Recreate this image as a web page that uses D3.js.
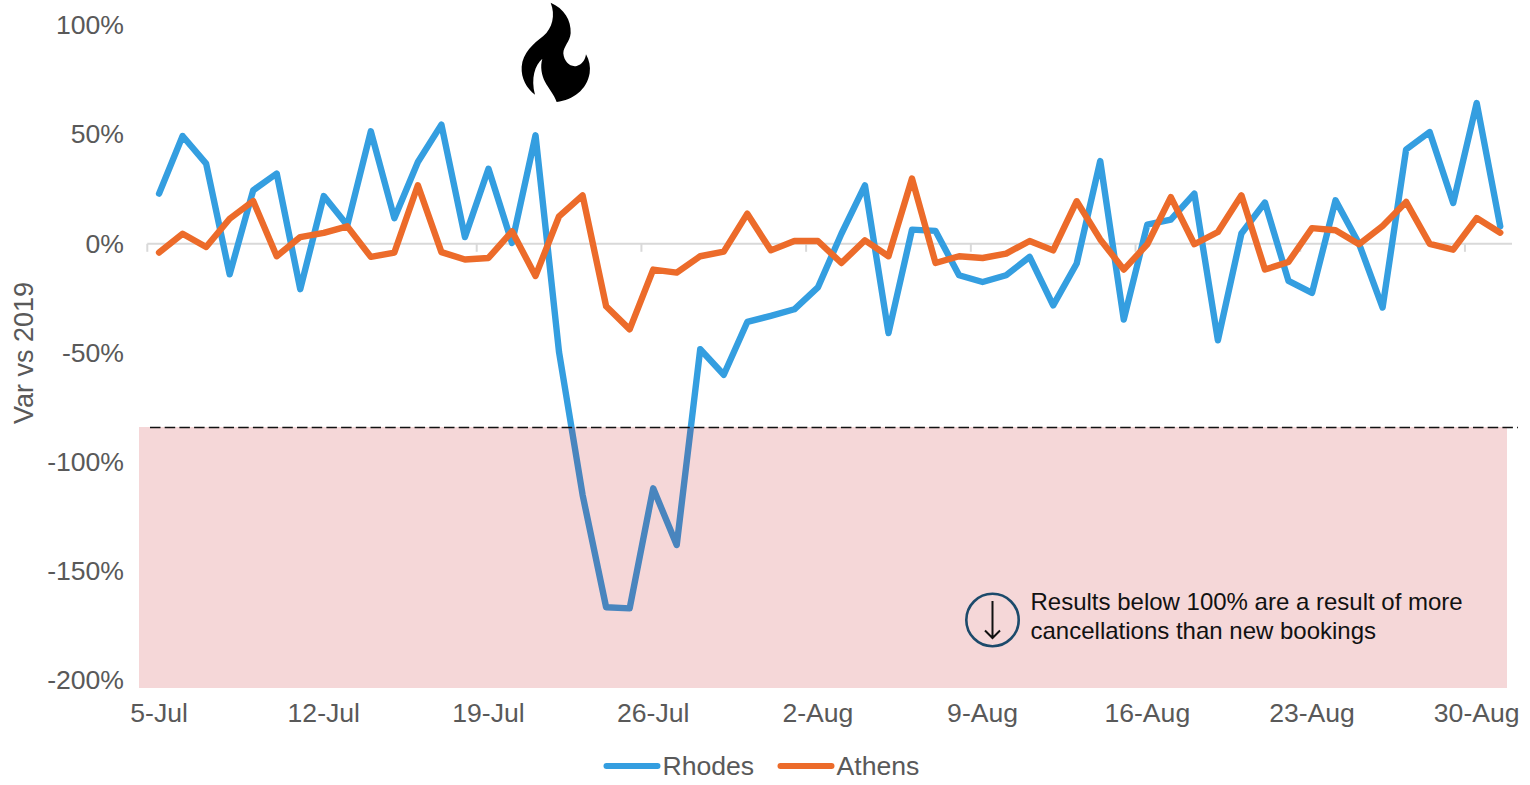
<!DOCTYPE html>
<html lang="en">
<head>
<meta charset="UTF-8">
<title>Var vs 2019</title>
<script src="https://cdn.jsdelivr.net/npm/d3@7"></script>
<style>
    html, body { margin: 0; padding: 0; background: #fff; }
    svg { display: block; }
    text { font-family: "Liberation Sans", Arial, sans-serif; }
</style>
</head>
<body>
<script>
    var dates = ["5-Jul","6-Jul","7-Jul","8-Jul","9-Jul","10-Jul","11-Jul","12-Jul","13-Jul","14-Jul",
        "15-Jul","16-Jul","17-Jul","18-Jul","19-Jul","20-Jul","21-Jul","22-Jul","23-Jul","24-Jul",
        "25-Jul","26-Jul","27-Jul","28-Jul","29-Jul","30-Jul","31-Jul","1-Aug","2-Aug","3-Aug",
        "4-Aug","5-Aug","6-Aug","7-Aug","8-Aug","9-Aug","10-Aug","11-Aug","12-Aug","13-Aug",
        "14-Aug","15-Aug","16-Aug","17-Aug","18-Aug","19-Aug","20-Aug","21-Aug","22-Aug","23-Aug",
        "24-Aug","25-Aug","26-Aug","27-Aug","28-Aug","29-Aug","30-Aug","31-Aug"];
    var rhodes = [23,49.4,36.7,-14,24.5,32.2,-20.8,21.9,8.5,51.5,
        11.7,37.5,54.6,3.1,34.4,0.4,49.7,-49.7,-115,-166.5,
        -167,-112,-138,-48.3,-60,-35.8,-33,-30,-20,4.6,
        26.8,-40.9,6.5,5.9,-14.4,-17.5,-14.4,-6,-28.2,-9,
        37.9,-34.7,8.8,11.1,23,-44.2,4.7,18.9,-17,-22.5,
        19.9,0,-29.2,43.2,51.2,18.7,64.5,8];
    var athens = [-4,4.6,-1.5,11.5,19.6,-5.7,3.1,5,8,-6,
        -4,26.8,-3.8,-7.2,-6.5,5.7,-14.7,12.6,22.2,-28.6,
        -39.2,-11.8,-13.2,-5.7,-3.6,13.8,-3,1.3,1.3,-8.8,
        1.6,-5.7,29.9,-8.8,-5.7,-6.5,-4.5,1.3,-3,19.5,
        2,-11.8,-0.2,21.4,-0.2,5.4,22.2,-11.8,-8.3,7.2,
        6.2,-0.2,8.2,19.2,0,-2.7,11.8,5.1];
    var yTicks = [100,50,0,-50,-100,-150,-200];
    var xLabels = ["5-Jul","12-Jul","19-Jul","26-Jul","2-Aug","9-Aug","16-Aug","23-Aug","30-Aug"];
    var seriesNames = ["Rhodes","Athens"];
    var seriesColors = ["#349ee0","#ec6b2a"];
    var noteLines = ["Results below 100% are a result of more","cancellations than new bookings"];

    var width = 1530, height = 785;
    var grey = "#595959";
    var labelSize = "26.6px";

    var svg = d3.select("body").append("svg")
        .attr("width", width)
        .attr("height", height);

    var x = d3.scaleBand().domain(dates).range([147.3, 1512]);
    var y = d3.scaleLinear().domain([-200, 100]).range([680.4, 25.5]);

    // x axis line sits on the zero value, labels stay at the bottom
    var zeroLine = svg.append("g");
    zeroLine.append("line")
        .attr("x1", x.range()[0]).attr("x2", x.range()[1])
        .attr("y1", y(0)).attr("y2", y(0))
        .attr("stroke", "#d9d9d9").attr("stroke-width", 2);
    zeroLine.selectAll(".tick")
        .data(xLabels)
        .enter()
        .append("line")
        .attr("class", "tick")
        .attr("x1", d => x(d)).attr("x2", d => x(d))
        .attr("y1", y(0)).attr("y2", y(0) + 8)
        .attr("stroke", "#d9d9d9").attr("stroke-width", 2);

    var yAxis = svg.append("g")
        .attr("transform", "translate(124,-1)")
        .call(d3.axisLeft(y).tickValues(yTicks).tickSize(0).tickPadding(0).tickFormat(d => d + "%"));
    yAxis.select(".domain").remove();
    yAxis.selectAll("text").attr("fill", grey).style("font-size", labelSize)
        .attr("dy", "0.35em");

    var xAxis = svg.append("g")
        .attr("transform", "translate(0,703)")
        .call(d3.axisBottom(x).tickValues(xLabels).tickSize(0).tickPadding(0));
    xAxis.select(".domain").remove();
    xAxis.selectAll("text").attr("fill", grey).style("font-size", labelSize)
        .attr("y", 0).attr("dy", "0.71em");

    svg.append("text")
        .attr("transform", "translate(33,353) rotate(-90)")
        .attr("text-anchor", "middle")
        .attr("fill", grey)
        .style("font-size", "27px")
        .text("Var vs 2019");

    var line = d3.line()
        .x((d, i) => x(dates[i]) + x.bandwidth() / 2)
        .y(d => y(d));

    [rhodes, athens].forEach(function (values, k) {
        svg.append("path")
            .datum(values)
            .attr("d", line)
            .attr("fill", "none")
            .attr("stroke", seriesColors[k])
            .attr("stroke-width", 6.4)
            .attr("stroke-linejoin", "round")
            .attr("stroke-linecap", "round");
    });

    // pink band goes over the lines, that is why the blue gets darker in it
    svg.append("rect")
        .attr("x", 139).attr("y", 427)
        .attr("width", 1368).attr("height", 261)
        .attr("fill", "rgb(190,0,5)").attr("fill-opacity", 0.155);

    svg.append("line")
        .attr("x1", 150).attr("x2", 1518)
        .attr("y1", 427.5).attr("y2", 427.5)
        .attr("stroke", "#111").attr("stroke-width", 1.4)
        .attr("stroke-dasharray", "10.5,4.2");

    // flame
    svg.append("path")
        .attr("transform", "translate(480,0) scale(0.3333)")
        .attr("fill", "#000")
        .attr("d", "M212,8 C252,25 274,60 272,100 C270,125 250,140 250,160 C252,185 270,202 290,198 C305,195 316,180 318,163 C328,180 332,200 329,220 C320,270 280,300 230,306 C222,282 205,265 195,245 C185,225 180,200 187,176 C165,195 152,235 165,284 C140,265 123,235 125,200 C128,160 160,130 190,108 C217,85 227,45 212,8 Z");

    // note with the down arrow
    svg.append("circle")
        .attr("cx", 992.5).attr("cy", 620).attr("r", 26.2)
        .attr("fill", "none").attr("stroke", "#1c4a6b").attr("stroke-width", 2.6);
    svg.append("path")
        .attr("d", "M992.5,601V638M985,630.5L992.5,638L1000,630.5")
        .attr("fill", "none").attr("stroke", "#111").attr("stroke-width", 2);
    svg.selectAll(".note")
        .data(noteLines)
        .enter()
        .append("text")
        .attr("class", "note")
        .attr("x", 1030.5)
        .attr("y", (d, i) => 610 + i * 29)
        .attr("fill", "#111")
        .style("font-size", "24px")
        .text(d => d);

    // legend
    var legendX = [606.5, 780.5];
    seriesNames.forEach(function (name, k) {
        svg.append("line")
            .attr("x1", legendX[k]).attr("x2", legendX[k] + 51)
            .attr("y1", 766).attr("y2", 766)
            .attr("stroke", seriesColors[k]).attr("stroke-width", 6)
            .attr("stroke-linecap", "round");
        svg.append("text")
            .attr("x", legendX[k] + 56)
            .attr("y", 775)
            .attr("fill", grey)
            .style("font-size", labelSize)
            .text(name);
    });
</script>
</body>
</html>
